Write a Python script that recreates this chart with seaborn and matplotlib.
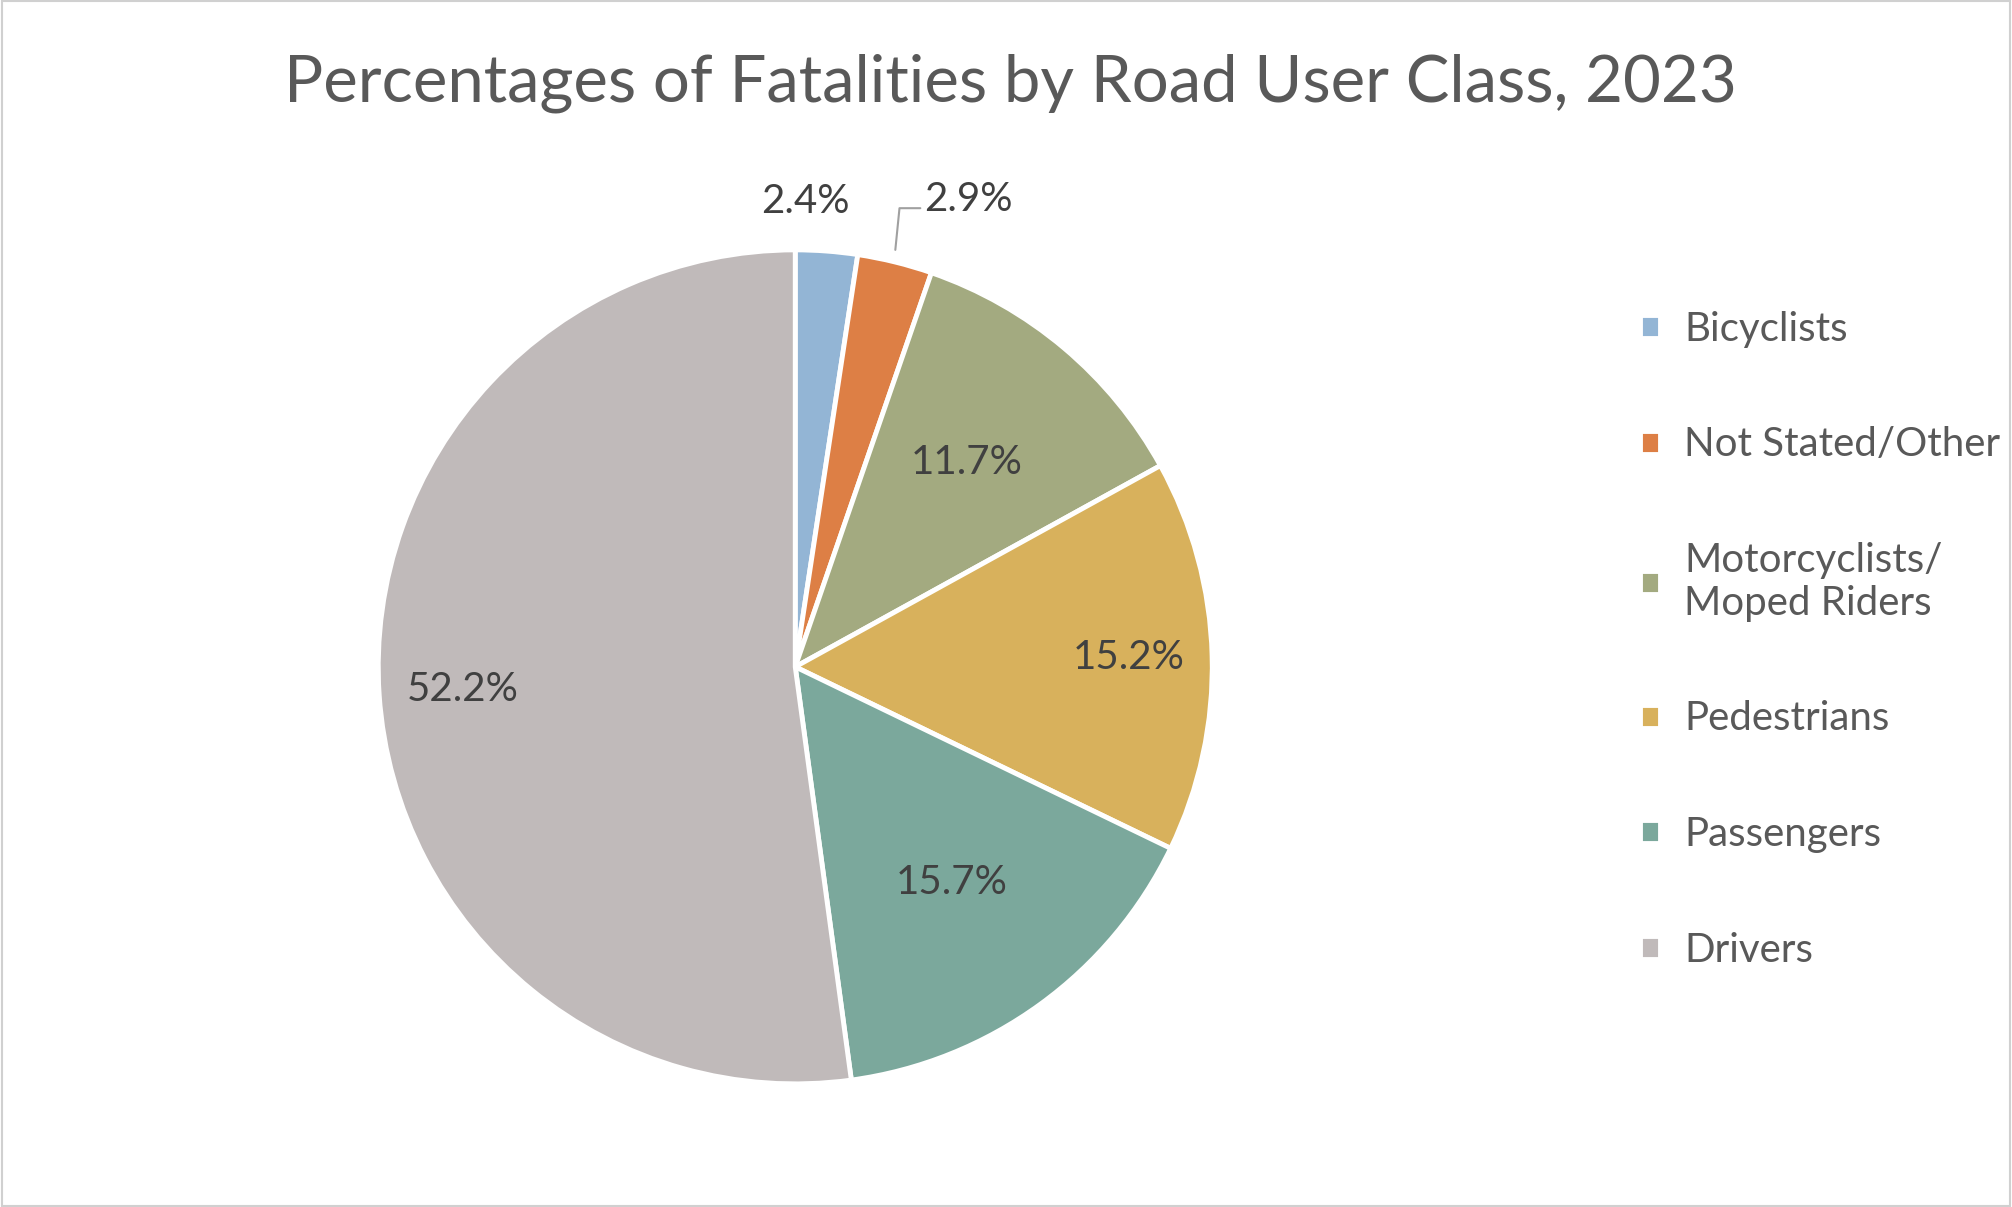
import numpy as np
import matplotlib
matplotlib.use("Agg")
import matplotlib.pyplot as plt
import seaborn as sns
from matplotlib.patches import Rectangle

categories = ["Bicyclists", "Not Stated/Other", "Motorcyclists/\nMoped Riders",
              "Pedestrians", "Passengers", "Drivers"]
values = [2.4, 2.9, 11.7, 15.2, 15.7, 52.2]
colors = ["#93B5D5", "#DD7F45", "#A3AA80", "#D8B15C", "#7BA89C", "#C0BABA"]

sns.set_theme(style="white", font="Lato")
fig = plt.figure(figsize=(20.12, 12.07), dpi=100)
fig.patches.append(Rectangle((0.001, 0.001), 0.998, 0.998, transform=fig.transFigure,
                             fill=False, edgecolor="#D0D0D0", linewidth=1.5))
ax = fig.add_axes([0.188, 0.102, 0.4145, 0.691])
wedges, _ = ax.pie(values, colors=colors, startangle=90, counterclock=False,
                   wedgeprops=dict(edgecolor="white", linewidth=3.5))
ax.set_aspect("equal")
ax.set_xlim(-1, 1)
ax.set_ylim(-1, 1)
ax.axis("off")

dists = [1.12, 1.18, 0.64, 0.80, 0.64, 0.80]
fs = 29
for w, v, d, i in zip(wedges, values, dists, range(6)):
    ang = np.deg2rad((w.theta1 + w.theta2) / 2)
    x, y = d * np.cos(ang), d * np.sin(ang)
    if i == 1:
        ax.plot([0.24, 0.25, 0.30], [1.0, 1.1, 1.1], color="#A0A0A0", lw=1.5, clip_on=False)
        ax.text(0.31, 1.12, f"{v}%", ha="left", va="center", fontsize=fs, color="#404040")
        continue
    if i == 0:
        x -= 0.06
    ax.text(x, y, f"{v}%", ha="center", va="center", fontsize=fs, color="#404040")

fig.text(0.502, 0.931, "Percentages of Fatalities by Road User Class, 2023",
         ha="center", va="center", fontsize=47, color="#595959")

leg = fig.legend(wedges, categories, loc="center left", bbox_to_anchor=(0.797, 0.47),
                 frameon=False, fontsize=29, labelcolor="#595959", handlelength=0.5,
                 handleheight=0.5, handletextpad=0.6, labelspacing=1.95)
fig.savefig("out.png", dpi=100)
